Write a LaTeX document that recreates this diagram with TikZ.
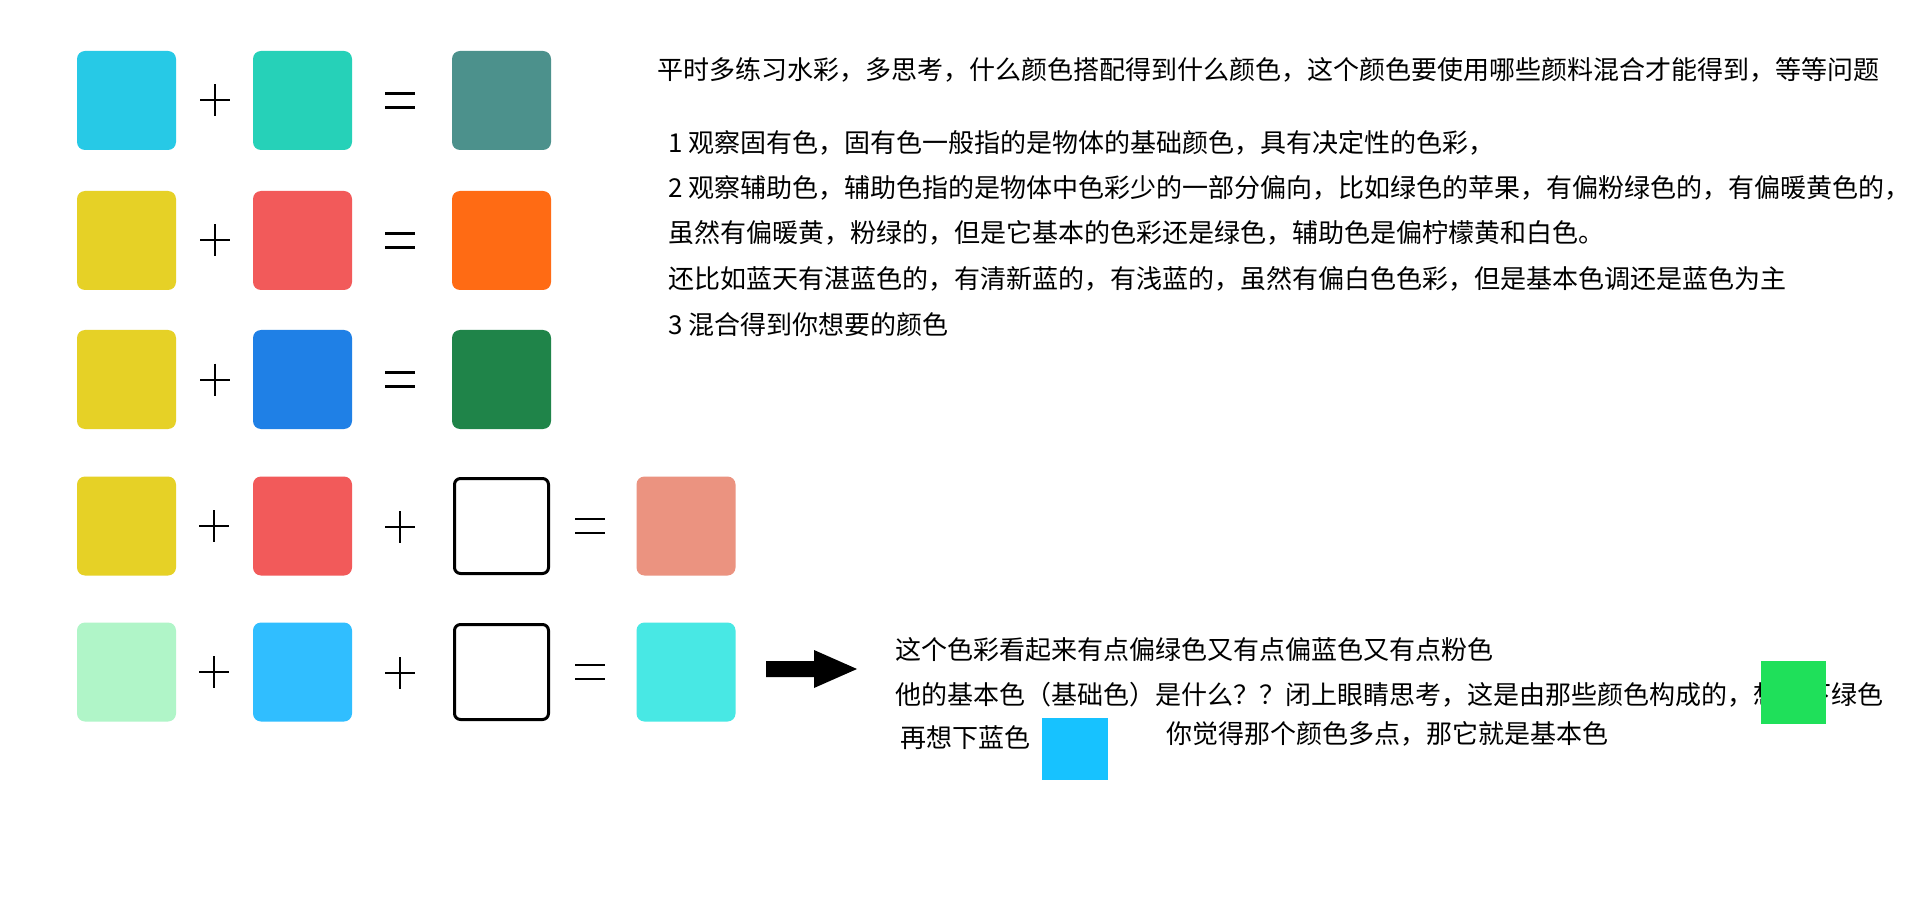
\documentclass[tikz,border=0pt]{standalone}
\usepackage{fontspec}
\newfontfamily\cjk{Noto Sans CJK SC}
\definecolor{cCyan}{HTML}{27C9E6}
\definecolor{cTeal}{HTML}{26D1B8}
\definecolor{cGrayTeal}{HTML}{4C918C}
\definecolor{cYellow}{HTML}{E6D126}
\definecolor{cRed}{HTML}{F25A5A}
\definecolor{cOrange}{HTML}{FF6B14}
\definecolor{cBlue}{HTML}{1F80E6}
\definecolor{cGreen}{HTML}{1F8449}
\definecolor{cSalmon}{HTML}{EB9380}
\definecolor{cMint}{HTML}{B0F5C8}
\definecolor{cSky}{HTML}{30BEFF}
\definecolor{cAqua}{HTML}{48E8E4}
\definecolor{cBright}{HTML}{1FE05A}
\definecolor{cBlueSq}{HTML}{17C2FF}
\tikzset{
  swatch/.style={rounded corners=8pt, inner sep=0pt, minimum width=99pt, minimum height=99pt, draw=none},
  emptybox/.style={rounded corners=6pt, inner sep=0pt, minimum width=94pt, minimum height=95pt, draw=black, line width=3pt, fill=white},
  opline/.style={line width=2pt, black},
  txt/.style={anchor=base west, inner sep=0pt, font=\cjk\fontsize{26pt}{30pt}\selectfont},
  flatsq/.style={anchor=north west, inner sep=0pt, draw=none}
}
\newcommand\plussign[2]{\draw[opline] (#1-15,#2) -- (#1+15,#2) (#1,#2-16) -- (#1,#2+16);}
\newcommand\equalsign[2]{\draw[opline, line width=2.5pt] (#1-15,#2-7) -- (#1+15,#2-7) (#1-15,#2+7) -- (#1+15,#2+7);}
\begin{document}
\begin{tikzpicture}[x=1pt,y=-1pt]
\useasboundingbox (0,0) rectangle (1920,917);
\fill[white] (0,0) rectangle (1920,917);

% row 1
\node[swatch, fill=cCyan] (r1a) at (126.5,100.5) {};
\node[swatch, fill=cTeal] (r1b) at (302.5,100.5) {};
\node[swatch, fill=cGrayTeal] (r1c) at (501.5,100.5) {};
\plussign{215}{100.5}
\equalsign{400}{100.5}
% row 2
\node[swatch, fill=cYellow] (r2a) at (126.5,240.5) {};
\node[swatch, fill=cRed] (r2b) at (302.5,240.5) {};
\node[swatch, fill=cOrange] (r2c) at (501.5,240.5) {};
\plussign{215}{240.5}
\equalsign{400}{240.5}
% row 3
\node[swatch, fill=cYellow] (r3a) at (126.5,379.5) {};
\node[swatch, fill=cBlue] (r3b) at (302.5,379.5) {};
\node[swatch, fill=cGreen] (r3c) at (501.5,379.5) {};
\plussign{215}{379.5}
\equalsign{400}{379.5}
% row 4
\node[swatch, fill=cYellow] (r4a) at (126.5,526) {};
\node[swatch, fill=cRed] (r4b) at (302.5,526) {};
\node[emptybox] (r4c) at (501.5,526) {};
\node[swatch, fill=cSalmon] (r4d) at (686,526) {};
\plussign{214}{526}
\plussign{400}{527}
\equalsign{590}{526}
% row 5
\node[swatch, fill=cMint] (r5a) at (126.5,672) {};
\node[swatch, fill=cSky] (r5b) at (302.5,672) {};
\node[emptybox] (r5c) at (501.5,672) {};
\node[swatch, fill=cAqua] (r5d) at (686,672) {};
\plussign{214}{672}
\plussign{400}{673}
\equalsign{590}{672}

% arrow
\fill[black] (766,661) -- (814,661) -- (814,650) -- (857,669) -- (814,688) -- (814,677) -- (766,677) -- cycle;

% text block
\node[txt] (t0) at (657.5,80) {平时多练习水彩，多思考，什么颜色搭配得到什么颜色，这个颜色要使用哪些颜料混合才能得到，等等问题};
\node[txt] (t1) at (668.5,153) {1 观察固有色，固有色一般指的是物体的基础颜色，具有决定性的色彩，};
\node[txt] (t2) at (668.5,197.5) {2 观察辅助色，辅助色指的是物体中色彩少的一部分偏向，比如绿色的苹果，有偏粉绿色的，有偏暖黄色的，};
\node[txt] (t3) at (668.5,243) {虽然有偏暖黄，粉绿的，但是它基本的色彩还是绿色，辅助色是偏柠檬黄和白色。};
\node[txt] (t4) at (668.5,289) {还比如蓝天有湛蓝色的，有清新蓝的，有浅蓝的，虽然有偏白色色彩，但是基本色调还是蓝色为主};
\node[txt] (t5) at (668.5,334.5) {3 混合得到你想要的颜色};

% bottom text
\node[txt] (b1) at (895,659) {这个色彩看起来有点偏绿色又有点偏蓝色又有点粉色};
\node[txt] (b2) at (895,704) {他的基本色（基础色）是什么？？闭上眼睛思考，这是由那些颜色构成的，想一下绿色};
\node[txt] (b3) at (900,747) {再想下蓝色};
\node[txt] (b4) at (1166,743.5) {你觉得那个颜色多点，那它就是基本色};

\node[flatsq, fill=cBright, minimum width=65pt, minimum height=63pt] (gsq) at (1761,661) {};
\node[flatsq, fill=cBlueSq, minimum width=66pt, minimum height=62pt] (bsq) at (1042,717.5) {};
\end{tikzpicture}
\end{document}
